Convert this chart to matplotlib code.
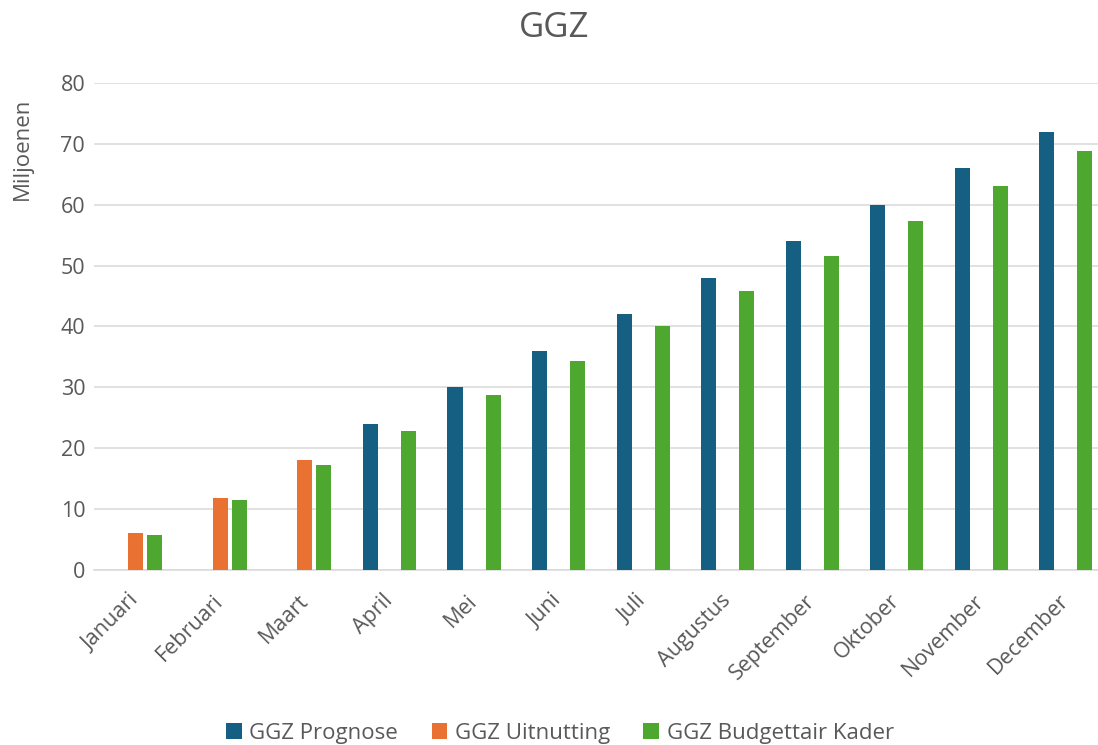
import matplotlib.pyplot as plt
import numpy as np

plt.rcParams['font.family'] = ['Open Sans', 'DejaVu Sans']

maanden = ["Januari", "Februari", "Maart", "April", "Mei", "Juni", "Juli",
           "Augustus", "September", "Oktober", "November", "December"]

# values in miljoenen
prognose = [np.nan, np.nan, np.nan, 24, 30, 36, 42, 48, 54, 60, 66, 72]
uitnutting = [6.1, 11.8, 18.0, np.nan, np.nan, np.nan, np.nan, np.nan,
              np.nan, np.nan, np.nan, np.nan]
budget_kader = [5.75, 11.5, 17.2, 22.9, 28.7, 34.4, 40.1, 45.9, 51.6, 57.3, 63.1, 68.8]

series = [
    ("GGZ Prognose", prognose, "#156082"),
    ("GGZ Uitnutting", uitnutting, "#E97132"),
    ("GGZ Budgettair Kader", budget_kader, "#4EA72E"),
]

grey = "#595959"

fig = plt.figure(figsize=(10.98, 7.45), dpi=100)
ax = fig.add_axes([0.0852, 0.2349, 0.924, 0.6537])

x = np.arange(len(maanden))
step = 0.225
width = 0.178
for k, (name, vals, col) in enumerate(series):
    vals = np.array(vals, dtype=float)
    ok = ~np.isnan(vals)
    ax.bar(x[ok] + (k - 1) * step, vals[ok], width=width, color=col, label=name, zorder=3)

ax.set_xlim(-0.5, len(maanden) - 0.5)
ax.set_ylim(0, 80)
ax.set_yticks(range(0, 81, 10))
ax.yaxis.grid(True, color="#D9D9D9", linewidth=1.1, zorder=0)
ax.set_axisbelow(True)
for s in ["top", "right", "left"]:
    ax.spines[s].set_visible(False)
ax.spines["bottom"].set_color("#D9D9D9")
ax.spines["bottom"].set_linewidth(1.1)
ax.tick_params(axis="both", length=0, colors=grey, labelsize=15.5)
ax.tick_params(axis="y", pad=6)
ax.set_xticks(x)
ax.set_xticklabels(maanden, rotation=45, ha="right", va="center",
                   rotation_mode="anchor", fontsize=15.5, color=grey)
ax.tick_params(axis="x", pad=20)

fig.text(0.505, 0.962, "GGZ", ha="center", va="center", fontsize=25, color=grey)
fig.text(0.020, 0.80, "Miljoenen", rotation=90, ha="center", va="center",
         fontsize=16, color=grey)

fig.legend(loc="center", bbox_to_anchor=(0.51, 0.016), ncol=3, frameon=False,
           fontsize=16, handlelength=0.7, handleheight=0.7, handletextpad=0.35,
           columnspacing=1.5, labelcolor=grey)

fig.savefig("out.png", dpi=100)
